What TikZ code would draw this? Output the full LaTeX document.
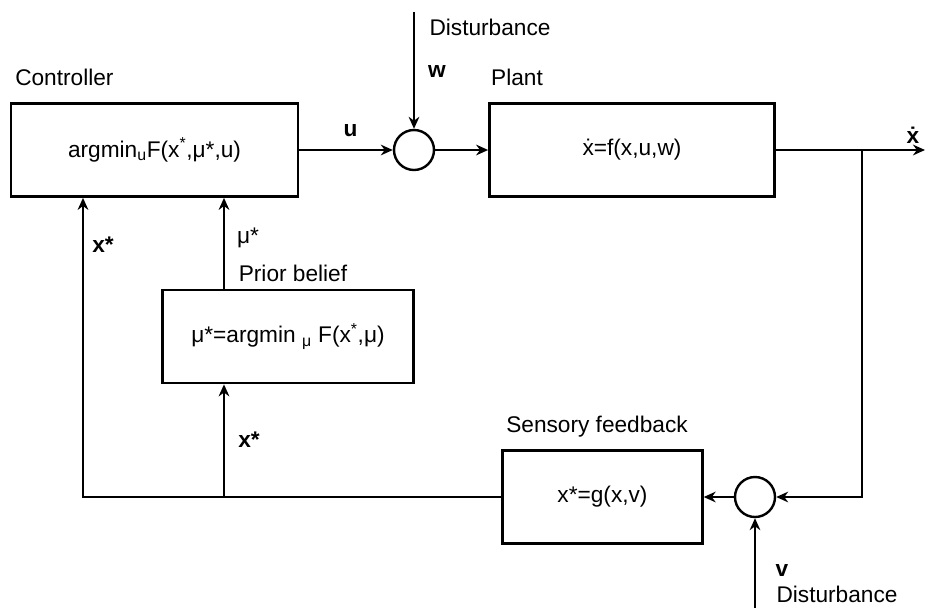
\documentclass[tikz,border=0pt]{standalone}
\usepackage{fontspec}
\setmainfont{Liberation Sans}
\usetikzlibrary{arrows.meta,positioning,calc}
\tikzset{
  >={Stealth[length=9pt,width=8pt]},
  blk/.style ={draw,rectangle,line width=1.8pt,minimum height=70pt,align=center},
  sumc/.style={draw,circle,line width=1.8pt,minimum size=30pt,inner sep=0pt},
  sig/.style ={->,line width=1.8pt},
  lbl/.style ={inner sep=0pt},
}

\begin{document}
\begin{tikzpicture}[x=0.75pt,y=-0.75pt,font=\fontsize{17}{20}\selectfont]
  \useasboundingbox (0,0) rectangle (925,608);
  % ---- TOP ROW: controller, sum, plant ----
  \node[blk,minimum width=215pt] (ctrl) at (154.5,150) {argmin\textsubscript{u}F(x\textsuperscript{*},μ*,u)};
  \node[lbl,anchor=west] (ctrlT) at (15,77) {Controller};
  \node[sumc] (sum1) at (414,150) {};
  \node[blk,minimum width=214pt] (plant) at (632,150) {ẋ=f(x,u,w)};
  \node[lbl] (plantT) at (517,77) {Plant};
  \coordinate (dw) at (414,12);
  \node[lbl] (distT) at (490,27) {Disturbance};
  \node[lbl] (wT) at (437,72) {\textbf{w}};
  \draw[sig] (dw) -- (sum1);
  \draw[sig] (ctrl) -- node[lbl,above=9pt,pos=0.55] (uT) {\textbf{u}} (sum1);
  \draw[sig] (sum1) -- (plant);
  \coordinate (out) at (925,150);
  \coordinate (br) at (862,150);
  \draw[sig] (plant) -- (out);
  \node[lbl] (xdT) at (913,135) {\textbf{ẋ}};

  % ---- BOTTOM: sensory feedback ----
  \node[blk,minimum width=150pt] (sens) at (602.5,497) {x*=g(x,v)};
  \node[lbl] (sensT) at (597,427) {Sensory feedback};
  \node[sumc] (sum2) at (755,497) {};
  \coordinate (dv) at (755,608);
  \node[lbl] (vT) at (782,571) {\textbf{v}};
  \node[lbl] (distT2) at (837,594) {Disturbance};
  \draw[sig] (br) |- (sum2);
  \draw[sig] (dv) -- (sum2);
  \draw[sig] (sum2) -- (sens);

  % ---- prior belief ----
  \node[blk,minimum width=188pt] (prior) at (288,336.5) {μ*=argmin \textsubscript{μ} F(x\textsuperscript{*},μ)};
  \node[lbl] (priorT) at (293,273) {Prior belief};
  \coordinate (j1) at (83,497);
  \coordinate (j2) at (224,497);
  \draw[sig] (sens.west) -- (j1) -- (j1 |- ctrl.south);
  \draw[sig] (j2) -- (j2 |- prior.south);
  \draw[sig] (j2 |- prior.north) -- (j2 |- ctrl.south);
  \node[lbl] (xs1) at (103,245) {\textbf{x*}};
  \node[lbl] (xs2) at (249,440) {\textbf{x*}};
  \node[lbl] (mus) at (248,238) {μ*};
\end{tikzpicture}
\end{document}
